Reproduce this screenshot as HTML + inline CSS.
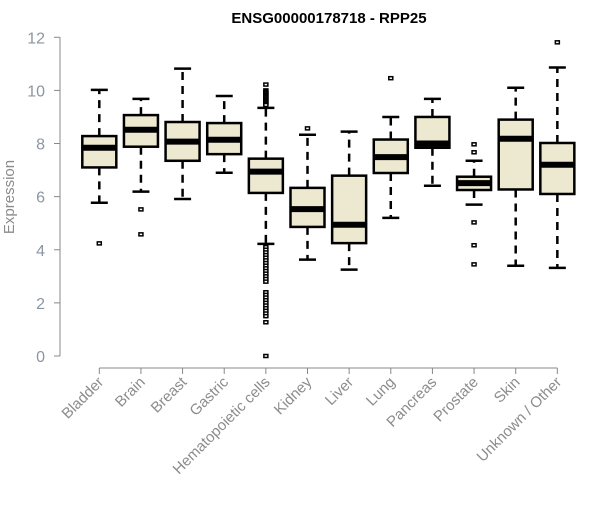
<!DOCTYPE html>
<html><head><meta charset="utf-8"><style>
body{margin:0;background:#fff;font-family:"Liberation Sans",sans-serif}
</style></head><body>
<svg id="chart" width="600" height="500" xmlns="http://www.w3.org/2000/svg">
<text x="329" y="23" text-anchor="middle" font-size="15" font-weight="bold" font-family="Liberation Sans, sans-serif">ENSG00000178718 - RPP25</text>
<text transform="translate(14,197) rotate(-90)" text-anchor="middle" font-size="15" fill="#8c8c8c" font-family="Liberation Sans, sans-serif">Expression</text>
<g id="g" font-family="Liberation Sans, sans-serif"></g>
</svg>
<script>
const categories=["Bladder","Brain","Breast","Gastric","Hematopoietic cells","Kidney","Liver","Lung","Pancreas","Prostate","Skin","Unknown / Other"];
const whiskerLow=[5.77,6.19,5.91,6.9,4.22,3.63,3.25,5.2,6.41,5.7,3.4,3.32];
const q1=[7.1,7.88,7.35,7.6,6.14,4.86,4.25,6.89,7.84,6.25,6.27,6.1];
const medians=[7.84,8.52,8.07,8.14,6.94,5.53,4.94,7.49,8.0,6.51,8.18,7.2];
const q3=[8.28,9.07,8.81,8.77,7.43,6.33,6.79,8.15,9.0,6.75,8.9,8.02];
const whiskerHigh=[10.02,9.68,10.82,9.79,9.34,8.33,8.45,9.0,9.68,7.35,10.1,10.86];
const outliers=[[4.24],[5.52,4.58],[],[],[10.22,10.0,9.95,9.9,9.85,9.8,9.75,9.7,9.65,9.6,9.55,9.5,9.45,4.1,4.0,3.9,3.8,3.7,3.6,3.5,3.4,3.3,3.2,3.1,3.0,2.9,2.8,2.4,2.3,2.2,2.1,2.0,1.9,1.8,1.7,1.6,1.5,1.27,0],[8.57],[],[10.46],[],[7.97,7.67,5.03,4.17,3.45],[],[11.81]];
const yTicks=[0,2,4,6,8,10,12];
const NS="http://www.w3.org/2000/svg";
const g=document.getElementById('g');
const y=v=>356-26.56*v;
const x=i=>99.3+41.64*i;
function el(t,a){const e=document.createElementNS(NS,t);for(const k in a)e.setAttribute(k,a[k]);g.appendChild(e);return e;}
let ax=el('line',{x1:60,y1:y(0),x2:60,y2:y(12),stroke:'#888','stroke-width':1});


yTicks.forEach(t=>{
  let l=el('line',{x1:54,x2:60,y1:y(t),y2:y(t),stroke:'#888'});
  
  
  let tx=el('text',{x:45,y:y(t)+6,'text-anchor':'end','font-size':16,fill:'#8c96a0'});
  tx.textContent=t;
  
  
});
let xa=el('line',{x1:x(0),x2:x(categories.length-1),y1:368,y2:368,stroke:'#888'});


categories.forEach((c,i)=>{
  const cx=x(i),w=17;
  let tk=el('line',{x1:cx,x2:cx,y1:368,y2:374,stroke:'#888'});
  
  
  let lb=el('text',{x:cx+5,y:383,'text-anchor':'end','font-size':15,fill:'#8c8c8c',transform:`rotate(-45 ${cx+5} 383)`});
  lb.textContent=c;
  
  
  let wl=el('line',{x1:cx,x2:cx,y1:y(q3[i]),y2:y(whiskerHigh[i]),stroke:'#000','stroke-width':2.5,'stroke-dasharray':'8,6'});
  
  
  let wl2=el('line',{x1:cx,x2:cx,y1:y(q1[i]),y2:y(whiskerLow[i]),stroke:'#000','stroke-width':2.5,'stroke-dasharray':'8,6'});
  
  
  [whiskerHigh[i],whiskerLow[i]].forEach(v=>{
    let cp=el('line',{x1:cx-8.5,x2:cx+8.5,y1:y(v),y2:y(v),stroke:'#000','stroke-width':2.5});
    
    
  });
  let bx=el('rect',{x:cx-w,y:y(q3[i]),width:2*w,height:y(q1[i])-y(q3[i]),fill:'#ede8d0',stroke:'#000','stroke-width':2.5});
  
  
  let md=el('line',{x1:cx-w,x2:cx+w,y1:y(medians[i]),y2:y(medians[i]),stroke:'#000','stroke-width':6});
  
  
  outliers[i].forEach(v=>{
    let o=el('rect',{x:cx-2,y:y(v)-1.5,width:4,height:3,fill:'#fff',stroke:'#000','stroke-width':1.5});
    
    
  });
});
</script>
</body></html>
